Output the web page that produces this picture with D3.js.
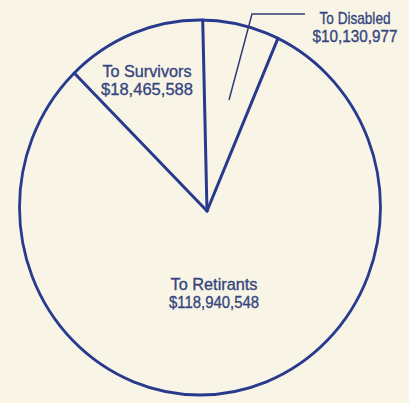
<!DOCTYPE html>
<html>
<head>
<meta charset="utf-8">
<script src="https://cdn.jsdelivr.net/npm/d3@7"></script>
<style>
  html, body { margin: 0; padding: 0; background: #f8f5e6; }
  svg { display: block; }
  text { font-family: "Liberation Sans Narrow", "Liberation Sans", Arial, sans-serif; fill: #36457f; stroke: #36457f; stroke-width: 0.35px; }
</style>
</head>
<body>
<svg id="chart" width="409" height="403"></svg>
<script>
// Benefit payments by recipient group
const categories = ["To Disabled", "To Retirants", "To Survivors"];
const amounts = [10130977, 118940548, 18465588];
const valueLabels = ["$10,130,977", "$118,940,548", "$18,465,588"];

const W = 409, H = 403;
const ink = "#283a8e";
const paper = "#f8f5e6";

const svg = d3.select("#chart");
svg.append("rect").attr("width", W).attr("height", H).attr("fill", paper);

// Outer rim is a slightly tall ellipse; spokes meet at a hub a little right of its centre
const cx = 200, cy = 207.5, r = 180.5, sy = 187.5 / 180.5;
const hub = [207, 211];

const slices = d3.pie().sort(null).value(d => d.value).startAngle(0.015)
  .endAngle(0.015 + 2 * Math.PI)(categories.map((c, i) => ({ name: c, value: amounts[i], label: valueLabels[i] })));

const arc = d3.arc().innerRadius(0).outerRadius(r);

const g = svg.append("g").attr("transform", `translate(${cx},${cy}) scale(1,${sy})`);
g.selectAll("path.slice").data(slices).join("path")
  .attr("class", "slice")
  .attr("d", arc)
  .attr("fill", paper);

g.append("ellipse")
  .attr("rx", r).attr("ry", r)
  .attr("fill", "none")
  .attr("stroke", ink)
  .attr("stroke-width", 2.8)
  .attr("vector-effect", "non-scaling-stroke");

// Spokes from the hub to each slice boundary on the rim
const rim = a => [cx + r * Math.sin(a), cy - r * Math.cos(a) * sy];
svg.selectAll("line.spoke").data(slices).join("line")
  .attr("class", "spoke")
  .attr("x1", hub[0]).attr("y1", hub[1])
  .attr("x2", d => rim(d.startAngle)[0])
  .attr("y2", d => rim(d.startAngle)[1])
  .attr("stroke", ink)
  .attr("stroke-width", 3)
  .attr("stroke-linecap", "round");

// Leader for the narrow Disabled slice
svg.append("polyline")
  .attr("points", "229,100 252,14 305,14")
  .attr("fill", "none")
  .attr("stroke", "#2f3b78")
  .attr("stroke-width", 1.5);

// Label positions: [x centre, first baseline, widths of the two lines]
const labelPos = {
  "To Disabled":  { x: 355, y: 24, w: [71, 85] },
  "To Retirants": { x: 214, y: 290, w: [87, 90] },
  "To Survivors": { x: 147, y: 77, w: [89, 92] }
};

slices.forEach(d => {
  const p = labelPos[d.data.name];
  [d.data.name, d.data.label].forEach((s, i) => {
    svg.append("text")
      .attr("text-anchor", "middle")
      .attr("font-size", 17)
      .attr("x", p.x)
      .attr("y", p.y + i * 18)
      .attr("textLength", p.w[i])
      .attr("lengthAdjust", "spacingAndGlyphs")
      .text(s);
  });
});
</script>
</body>
</html>
